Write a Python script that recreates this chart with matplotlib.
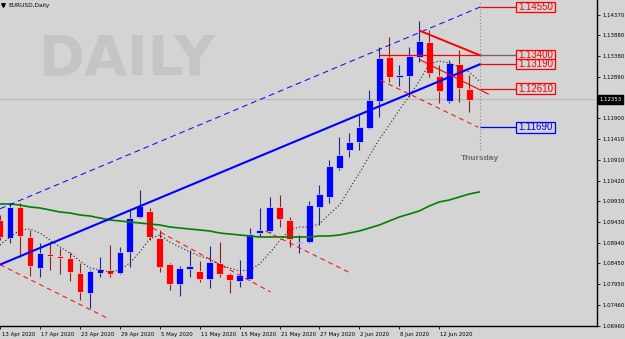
import matplotlib
matplotlib.use('Agg')
import matplotlib.pyplot as plt
from matplotlib.patches import Rectangle
import matplotlib.transforms as mtransforms

# ---------------- data (EURUSD daily, 13 Apr 2020 .. 17 Jun 2020) ----------------
opens = [1.09483, 1.09054, 1.09792, 1.09078, 1.08341, 1.08674, 1.08626, 1.08578, 1.08222, 1.07746,
         1.08222, 1.08293, 1.08222, 1.08721, 1.09554, 1.09697, 1.09054, 1.08436, 1.07960, 1.08317,
         1.08269, 1.08079, 1.08459, 1.08198, 1.08031, 1.08079, 1.09173, 1.09221, 1.09792, 1.09483,
         1.08935, 1.08959, 1.09792, 1.10030, 1.10720, 1.11148, 1.11338, 1.11672, 1.12314, 1.13361,
         1.12885, 1.12909, 1.13361, 1.13718, 1.12909, 1.12314, 1.13194, 1.12599]
highs = [1.09602, 1.09887, 1.09887, 1.09245, 1.08935, 1.08959, 1.08816, 1.08721, 1.08459, 1.08293,
         1.08602, 1.08888, 1.08840, 1.09721, 1.10196, 1.09768, 1.09245, 1.08459, 1.08388, 1.08769,
         1.08507, 1.08864, 1.08959, 1.08222, 1.08531, 1.09292, 1.09768, 1.10030, 1.10077, 1.09554,
         1.09126, 1.09935, 1.10315, 1.10910, 1.11457, 1.11553, 1.11981, 1.12576, 1.13599, 1.13837,
         1.13171, 1.13599, 1.14217, 1.14003, 1.13171, 1.13289, 1.13527, 1.12933]
lows = [1.09007, 1.08935, 1.08602, 1.08150, 1.08126, 1.08293, 1.08198, 1.08031, 1.07579, 1.07389,
        1.08126, 1.08126, 1.08198, 1.08364, 1.09530, 1.09007, 1.08245, 1.07817, 1.07674, 1.08126,
        1.08007, 1.07865, 1.08126, 1.07746, 1.07888, 1.08055, 1.09078, 1.09173, 1.09316, 1.08840,
        1.08697, 1.08935, 1.09364, 1.09887, 1.10672, 1.10982, 1.11148, 1.11648, 1.11933, 1.12766,
        1.12671, 1.12409, 1.13242, 1.12885, 1.12266, 1.12266, 1.12290, 1.12052]
closes = [1.09078, 1.09792, 1.09102, 1.08388, 1.08697, 1.08626, 1.08578, 1.08245, 1.07769, 1.08269,
          1.08317, 1.08198, 1.08721, 1.09530, 1.09816, 1.09078, 1.08364, 1.07960, 1.08341, 1.08388,
          1.08079, 1.08483, 1.08198, 1.08055, 1.08174, 1.09149, 1.09245, 1.09792, 1.09506, 1.09031,
          1.08959, 1.09839, 1.10101, 1.10767, 1.11029, 1.11338, 1.11695, 1.12338, 1.13337, 1.12885,
          1.12933, 1.13385, 1.13742, 1.12980, 1.12552, 1.13218, 1.12623, 1.12338]

# fast moving average (dotted) and slow moving average (green), one extra point (18 Jun)
ma_fast = [1.08888, 1.09078, 1.09245, 1.09268, 1.09173, 1.09007, 1.08840, 1.08697, 1.08507, 1.08341,
           1.08293, 1.08245, 1.08293, 1.08459, 1.08721, 1.09031, 1.09126, 1.08959, 1.08840, 1.08721,
           1.08626, 1.08555, 1.08412, 1.08341, 1.08269, 1.08293, 1.08436, 1.08697, 1.08983, 1.09245,
           1.09316, 1.09316, 1.09387, 1.09625, 1.09839, 1.10220, 1.10601, 1.11005, 1.11410, 1.11743,
           1.12100, 1.12433, 1.12790, 1.13194, 1.13266, 1.13218, 1.13123, 1.13004, 1.12790]
ma_slow = [1.09863, 1.09863, 1.09839, 1.09792, 1.09768, 1.09721, 1.09673, 1.09649, 1.09602, 1.09578,
           1.09530, 1.09483, 1.09459, 1.09435, 1.09411, 1.09387, 1.09364, 1.09316, 1.09292, 1.09268,
           1.09245, 1.09221, 1.09173, 1.09149, 1.09126, 1.09102, 1.09078, 1.09078, 1.09078, 1.09078,
           1.09078, 1.09078, 1.09102, 1.09102, 1.09126, 1.09173, 1.09221, 1.09292, 1.09364, 1.09459,
           1.09554, 1.09625, 1.09697, 1.09816, 1.09911, 1.09958, 1.10030, 1.10101, 1.10149]

# x-axis labels (bar index -> date)
tick_idx = [0, 4, 8, 12, 16, 20, 24, 28, 32, 36, 40, 44]
tick_labels = ['13 Apr 2020', '17 Apr 2020', '23 Apr 2020', '29 Apr 2020', '5 May 2020',
               '11 May 2020', '15 May 2020', '21 May 2020', '27 May 2020', '2 Jun 2020',
               '8 Jun 2020', '12 Jun 2020']
# price axis labels
ytick_vals = [1.14370, 1.13880, 1.13380, 1.12890, 1.11900, 1.11410, 1.10910, 1.10420,
              1.09930, 1.09430, 1.08940, 1.08450, 1.07950, 1.07460, 1.06960]
bid_price = 1.12353

# drawn objects: (bar index, price) end points
blue_channel_upper = [(0, 1.0975), (48.1, 1.1455)]
blue_trend = [(0, 1.0842), (48.1, 1.1319)]
red_top = [(42.1, 1.1398), (48.1, 1.1340)]
red_mid = [(42.1, 1.1329), (48.9, 1.1248)]
red_low = [(38.1, 1.1281), (47.9, 1.1169)]
red_apr = [(0, 1.0842), (10.9, 1.0713)]
red_may1 = [(15.3, 1.0929), (27.1, 1.0777)]
red_may2 = [(26.6, 1.0922), (35.1, 1.0822)]

levels = [1.14550, 1.13400, 1.13190, 1.12610, 1.11690]
level_labels = ['1.14550', '1.13400', '1.13190', '1.12610', '1.11690']
level_colors = ['#ff0000', '#ff0000', '#ff0000', '#ff0000', '#0000ff']
level_starts = [48.1, 38.0, 48.1, 48.1, 48.1]

thursday_idx = 48.1
thursday_bottom = 1.11148
thursday_text_y = 1.10945

# ---------------- figure ----------------
BG = '#d4d4d4'
W, H = 625, 339
fig = plt.figure(figsize=(W / 100, H / 100), dpi=100, facecolor=BG)
ax = fig.add_axes([0, 13 / H, 597 / W, 326 / H], facecolor=BG)
ax.set_xlim(0.1, 59.8)
ax.set_ylim(1.0696, 1.14717)

# watermark
ax.text(3.9, 1.12933, 'DAILY', fontsize=40, fontweight='bold', color='#c5c5c5',
        ha='left', va='baseline', zorder=0, family='DejaVu Sans')

# bid line
ax.axhline(bid_price, color='#bdbdbd', lw=1.0, zorder=1)

# candles
for i in range(len(opens)):
    o, h, l, c = opens[i], highs[i], lows[i], closes[i]
    up = c >= o
    body_col = '#0000ff' if up else '#ff0000'
    wick_col = '#22228a' if up else '#8f2020'
    ax.vlines(i, l, h, color=wick_col, lw=0.8, zorder=3)
    bottom = min(o, c)
    height = max(abs(c - o), 0.00028)
    ax.add_patch(Rectangle((i - 0.33, bottom), 0.66, height, facecolor=body_col,
                           edgecolor='#e9e9e9', lw=0.45, zorder=4))

# moving averages
xs = list(range(len(ma_slow)))
ax.plot(xs, ma_slow, color='#008000', lw=1.2, zorder=5)
ax.plot(list(range(len(ma_fast))), ma_fast, color='#202020', lw=0.8,
        linestyle=(0, (1, 2)), zorder=5)


def seg(pts, **kw):
    ax.plot([pts[0][0], pts[1][0]], [pts[0][1], pts[1][1]], **kw)


seg(blue_channel_upper, color='#0000ff', lw=0.7, linestyle=(0, (6, 4)), zorder=6)
seg(blue_trend, color='#0000ff', lw=1.5, zorder=6)
seg(red_top, color='#ff0000', lw=1.4, zorder=6)
seg(red_mid, color='#ff0000', lw=0.8, zorder=6)
for p in (red_low, red_apr, red_may1, red_may2):
    seg(p, color='#ff0000', lw=0.7, linestyle=(0, (5, 4)), zorder=6)

# Thursday marker
ax.vlines(thursday_idx, thursday_bottom, 1.14717, color='#8a8a8a', lw=0.8,
          linestyles=(0, (1, 2)), zorder=6)
ax.text(thursday_idx, thursday_text_y, 'Thursday', ha='center', va='center', fontsize=6,
        fontweight='bold', color='#6c6c6c', family='Liberation Sans', zorder=7)

# price levels with boxes
box_x0, box_w, box_h = 51.7, 3.9, 0.00252
for lv, lab, col, st in zip(levels, level_labels, level_colors, level_starts):
    ax.hlines(lv, st, box_x0, color=col, lw=0.9, zorder=6)
    ax.add_patch(Rectangle((box_x0, lv - box_h / 2), box_w, box_h, facecolor=BG,
                           edgecolor=col, lw=0.9, zorder=7))
    ax.text(box_x0 + box_w / 2, lv, lab, ha='center', va='center', fontsize=7,
            color=col, family='Liberation Sans', zorder=8)
ax.hlines(levels[1] + 0.0002, 48.1, box_x0, color='#2a8a8a', lw=0.6, zorder=6)

# axes styling
for s in ('top', 'left'):
    ax.spines[s].set_visible(False)
for s in ('bottom', 'right'):
    ax.spines[s].set_color('black')
    ax.spines[s].set_linewidth(1.0)

ax.yaxis.tick_right()
ax.set_yticks(ytick_vals)
ax.set_yticklabels([f'{v:.5f}' for v in ytick_vals])
ax.tick_params(axis='y', length=2.5, width=0.6, pad=1.5, labelsize=3.9, colors='black')

ax.set_xticks(tick_idx)
ax.set_xticklabels(tick_labels)
ax.tick_params(axis='x', length=2.5, width=0.6, pad=1.5, labelsize=3.9, colors='black')
for k, lbl in enumerate(ax.get_xticklabels()):
    lbl.set_horizontalalignment('left')
    dx = 1.5 / 100 if k == 0 else 1 / 100
    lbl.set_transform(lbl.get_transform() + mtransforms.ScaledTranslation(dx, 0, fig.dpi_scale_trans))

# bid price label
ax.text(1.004, bid_price, f'{bid_price:.5f}', transform=ax.get_yaxis_transform(),
        ha='left', va='center', fontsize=3.9, color='white', zorder=9, clip_on=False,
        bbox=dict(facecolor='black', edgecolor='black', pad=1.3))

# title
ax.plot([3 / 597], [1 - 5 / 326], marker='v', ms=2.6, color='black',
        transform=ax.transAxes, clip_on=False)
fig.text(8 / W, 1 - 5 / H, 'EURUSD,Daily', fontsize=4.2, ha='left', va='center', color='black')

fig.savefig('out.png', dpi=100, facecolor=BG)
